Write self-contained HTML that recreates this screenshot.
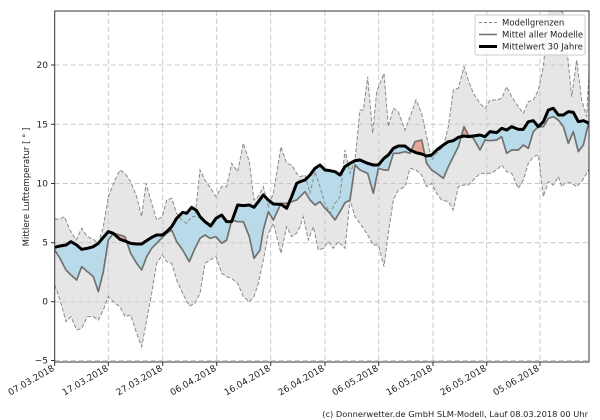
<!DOCTYPE html>
<html><head><meta charset="utf-8"><style>
html,body{margin:0;padding:0;background:#fff;}
svg{display:block;font-family:"DejaVu Sans","Liberation Sans",sans-serif;}
</style></head><body>
<svg width="600" height="420" viewBox="0 0 600 420" xmlns="http://www.w3.org/2000/svg">
<defs>
<clipPath id="plot"><rect x="54.7" y="11" width="534.3" height="351"/></clipPath>
<clipPath id="below"><polygon points="164,742 180,738 198,735 213,725 230,735 245,748 262,745 280,740 295,730 310,712 325,695 340,700 360,718 375,723 392,730 410,732 425,732 440,722 455,712 470,705 487,705 500,695 515,680 530,655 548,637 560,640 575,622 590,632 600,650 615,665 632,678 648,655 665,645 680,665 695,665 713,615 730,617 748,615 762,622 775,605 790,585 805,600 820,612 843,613 860,625 875,590 890,550 900,545 915,540 930,525 945,505 960,495 975,510 990,512 1005,515 1020,525 1035,500 1050,490 1065,482 1080,480 1103,490 1120,495 1135,495 1152,475 1165,465 1180,445 1195,438 1215,438 1230,450 1248,458 1265,462 1280,468 1295,465 1310,450 1330,435 1345,425 1360,422 1375,412 1392,408 1405,410 1420,408 1440,405 1455,410 1470,395 1490,398 1505,385 1520,390 1535,380 1555,388 1570,388 1585,365 1600,362 1615,380 1630,365 1645,330 1660,325 1675,345 1690,345 1705,335 1720,337 1735,365 1750,362 1768,370 1768,1100 164,1100"/></clipPath>
<clipPath id="above"><polygon points="164,742 180,738 198,735 213,725 230,735 245,748 262,745 280,740 295,730 310,712 325,695 340,700 360,718 375,723 392,730 410,732 425,732 440,722 455,712 470,705 487,705 500,695 515,680 530,655 548,637 560,640 575,622 590,632 600,650 615,665 632,678 648,655 665,645 680,665 695,665 713,615 730,617 748,615 762,622 775,605 790,585 805,600 820,612 843,613 860,625 875,590 890,550 900,545 915,540 930,525 945,505 960,495 975,510 990,512 1005,515 1020,525 1035,500 1050,490 1065,482 1080,480 1103,490 1120,495 1135,495 1152,475 1165,465 1180,445 1195,438 1215,438 1230,450 1248,458 1265,462 1280,468 1295,465 1310,450 1330,435 1345,425 1360,422 1375,412 1392,408 1405,410 1420,408 1440,405 1455,410 1470,395 1490,398 1505,385 1520,390 1535,380 1555,388 1570,388 1585,365 1600,362 1615,380 1630,365 1645,330 1660,325 1675,345 1690,345 1705,335 1720,337 1735,365 1750,362 1768,370 1768,0 164,0"/></clipPath>
</defs>
<g clip-path="url(#plot)">
<g transform="scale(0.3333333)">
<polygon fill="#e6e6e6" points="164,657 178,658 193,650 210,690 228,720 245,685 262,710 280,718 295,730 310,680 325,590 345,540 360,510 375,520 392,545 410,590 425,650 438,550 455,610 470,660 487,650 500,600 515,595 530,640 545,660 560,670 575,650 585,650 600,510 615,540 632,565 648,590 665,560 680,560 695,490 713,515 730,430 748,485 762,600 775,590 790,560 805,620 820,580 843,440 860,490 875,495 890,520 900,530 915,525 930,580 945,515 960,560 975,610 990,640 1005,610 1020,590 1035,450 1050,520 1065,480 1080,330 1090,330 1103,230 1118,400 1130,275 1152,220 1165,380 1180,325 1195,335 1215,390 1230,350 1248,300 1265,340 1280,410 1295,480 1310,460 1330,440 1345,380 1360,270 1375,265 1392,200 1405,240 1420,280 1440,310 1455,325 1470,300 1490,300 1505,295 1520,260 1535,290 1555,320 1570,340 1585,305 1600,300 1615,270 1630,200 1640,100 1650,20 1670,20 1690,40 1700,140 1715,290 1730,180 1745,300 1760,350 1768,200 1768,505 1760,520 1745,545 1730,560 1715,550 1700,545 1685,560 1675,530 1660,555 1645,545 1630,590 1615,465 1600,470 1585,490 1570,540 1555,565 1535,520 1520,515 1505,495 1490,510 1470,520 1455,520 1440,520 1420,540 1405,555 1392,555 1375,560 1360,630 1345,605 1325,600 1310,580 1295,550 1280,560 1265,525 1248,510 1230,505 1215,560 1195,570 1180,600 1165,700 1152,800 1135,735 1120,735 1100,700 1080,670 1065,650 1050,600 1035,745 1015,725 1000,745 985,725 970,745 955,750 940,680 925,720 910,650 900,680 890,700 875,710 860,680 843,760 820,670 805,700 790,780 775,850 762,890 748,905 730,890 713,850 695,835 680,830 665,820 648,770 630,780 615,790 600,880 585,910 568,918 548,880 530,840 515,790 500,785 487,765 470,790 455,880 440,960 425,1040 410,1000 392,945 375,950 360,920 345,910 325,890 310,930 295,960 280,950 262,950 245,985 230,990 213,950 198,965 180,900 164,855"/>
</g>
<g stroke="#c8c8c8" stroke-width="1" stroke-dasharray="5,3" fill="none">
<line x1="108.3" y1="11" x2="108.3" y2="362"/><line x1="162.7" y1="11" x2="162.7" y2="362"/><line x1="216.7" y1="11" x2="216.7" y2="362"/><line x1="270.7" y1="11" x2="270.7" y2="362"/><line x1="325" y1="11" x2="325" y2="362"/><line x1="378.7" y1="11" x2="378.7" y2="362"/><line x1="433" y1="11" x2="433" y2="362"/><line x1="486.7" y1="11" x2="486.7" y2="362"/><line x1="540" y1="11" x2="540" y2="362"/>
<line x1="54.7" y1="65" x2="589" y2="65"/><line x1="54.7" y1="124.3" x2="589" y2="124.3"/><line x1="54.7" y1="183.5" x2="589" y2="183.5"/><line x1="54.7" y1="242.7" x2="589" y2="242.7"/><line x1="54.7" y1="301.7" x2="589" y2="301.7"/><line x1="54.7" y1="360.5" x2="589" y2="360.5"/>
</g>
<g transform="scale(0.3333333)">
<polygon fill="#b9dbe9" clip-path="url(#below)" points="164,742 180,738 198,735 213,725 230,735 245,748 262,745 280,740 295,730 310,712 325,695 340,700 360,718 375,723 392,730 410,732 425,732 440,722 455,712 470,705 487,705 500,695 515,680 530,655 548,637 560,640 575,622 590,632 600,650 615,665 632,678 648,655 665,645 680,665 695,665 713,615 730,617 748,615 762,622 775,605 790,585 805,600 820,612 843,613 860,625 875,590 890,550 900,545 915,540 930,525 945,505 960,495 975,510 990,512 1005,515 1020,525 1035,500 1050,490 1065,482 1080,480 1103,490 1120,495 1135,495 1152,475 1165,465 1180,445 1195,438 1215,438 1230,450 1248,458 1265,462 1280,468 1295,465 1310,450 1330,435 1345,425 1360,422 1375,412 1392,408 1405,410 1420,408 1440,405 1455,410 1470,395 1490,398 1505,385 1520,390 1535,380 1555,388 1570,388 1585,365 1600,362 1615,380 1630,365 1645,330 1660,325 1675,345 1690,345 1705,335 1720,337 1735,365 1750,362 1768,370 1768,360 1750,435 1735,455 1720,395 1705,430 1690,380 1675,360 1660,350 1645,355 1630,380 1615,380 1600,395 1585,445 1570,435 1555,450 1535,450 1520,460 1505,410 1490,420 1470,422 1455,420 1440,450 1420,415 1405,405 1392,380 1375,440 1360,470 1345,500 1330,535 1310,520 1295,510 1280,490 1265,420 1245,425 1230,460 1215,455 1195,460 1180,460 1165,510 1152,510 1135,505 1120,580 1103,520 1080,510 1065,495 1050,600 1035,608 1020,635 1005,660 990,640 975,625 960,605 945,615 930,600 915,575 900,590 890,600 875,605 860,610 843,610 820,660 805,635 790,690 780,750 762,775 748,710 730,665 713,665 695,660 680,720 665,730 648,710 630,715 615,705 600,715 585,745 568,785 548,750 530,725 515,690 500,700 487,712 470,730 455,745 440,770 425,810 410,790 392,760 375,710 360,705 340,700 325,720 310,815 295,875 280,830 262,815 245,800 230,840 213,825 198,810 180,775 164,750"/>
<polygon fill="#e8a898" clip-path="url(#above)" points="164,742 180,738 198,735 213,725 230,735 245,748 262,745 280,740 295,730 310,712 325,695 340,700 360,718 375,723 392,730 410,732 425,732 440,722 455,712 470,705 487,705 500,695 515,680 530,655 548,637 560,640 575,622 590,632 600,650 615,665 632,678 648,655 665,645 680,665 695,665 713,615 730,617 748,615 762,622 775,605 790,585 805,600 820,612 843,613 860,625 875,590 890,550 900,545 915,540 930,525 945,505 960,495 975,510 990,512 1005,515 1020,525 1035,500 1050,490 1065,482 1080,480 1103,490 1120,495 1135,495 1152,475 1165,465 1180,445 1195,438 1215,438 1230,450 1248,458 1265,462 1280,468 1295,465 1310,450 1330,435 1345,425 1360,422 1375,412 1392,408 1405,410 1420,408 1440,405 1455,410 1470,395 1490,398 1505,385 1520,390 1535,380 1555,388 1570,388 1585,365 1600,362 1615,380 1630,365 1645,330 1660,325 1675,345 1690,345 1705,335 1720,337 1735,365 1750,362 1768,370 1768,360 1750,435 1735,455 1720,395 1705,430 1690,380 1675,360 1660,350 1645,355 1630,380 1615,380 1600,395 1585,445 1570,435 1555,450 1535,450 1520,460 1505,410 1490,420 1470,422 1455,420 1440,450 1420,415 1405,405 1392,380 1375,440 1360,470 1345,500 1330,535 1310,520 1295,510 1280,490 1265,420 1245,425 1230,460 1215,455 1195,460 1180,460 1165,510 1152,510 1135,505 1120,580 1103,520 1080,510 1065,495 1050,600 1035,608 1020,635 1005,660 990,640 975,625 960,605 945,615 930,600 915,575 900,590 890,600 875,605 860,610 843,610 820,660 805,635 790,690 780,750 762,775 748,710 730,665 713,665 695,660 680,720 665,730 648,710 630,715 615,705 600,715 585,745 568,785 548,750 530,725 515,690 500,700 487,712 470,730 455,745 440,770 425,810 410,790 392,760 375,710 360,705 340,700 325,720 310,815 295,875 280,830 262,815 245,800 230,840 213,825 198,810 180,775 164,750"/>
<g fill="none" stroke="#8a8a8a" stroke-width="3" stroke-dasharray="12,6">
<polyline points="164,657 178,658 193,650 210,690 228,720 245,685 262,710 280,718 295,730 310,680 325,590 345,540 360,510 375,520 392,545 410,590 425,650 438,550 455,610 470,660 487,650 500,600 515,595 530,640 545,660 560,670 575,650 585,650 600,510 615,540 632,565 648,590 665,560 680,560 695,490 713,515 730,430 748,485 762,600 775,590 790,560 805,620 820,580 843,440 860,490 875,495 890,520 900,530 915,525 930,580 945,515 960,560 975,610 990,640 1005,610 1020,590 1035,450 1050,520 1065,480 1080,330 1090,330 1103,230 1118,400 1130,275 1152,220 1165,380 1180,325 1195,335 1215,390 1230,350 1248,300 1265,340 1280,410 1295,480 1310,460 1330,440 1345,380 1360,270 1375,265 1392,200 1405,240 1420,280 1440,310 1455,325 1470,300 1490,300 1505,295 1520,260 1535,290 1555,320 1570,340 1585,305 1600,300 1615,270 1630,200 1640,100 1650,20 1670,20 1690,40 1700,140 1715,290 1730,180 1745,300 1760,350 1768,200"/>
<polyline points="164,855 180,900 198,965 213,950 230,990 245,985 262,950 280,950 295,960 310,930 325,890 345,910 360,920 375,950 392,945 410,1000 425,1040 440,960 455,880 470,790 487,765 500,785 515,790 530,840 548,880 568,918 585,910 600,880 615,790 630,780 648,770 665,820 680,830 695,835 713,850 730,890 748,905 762,890 775,850 790,780 805,700 820,670 843,760 860,680 875,710 890,700 900,680 910,650 925,720 940,680 955,750 970,745 985,725 1000,745 1015,725 1035,745 1050,600 1065,650 1080,670 1100,700 1120,735 1135,735 1152,800 1165,700 1180,600 1195,570 1215,560 1230,505 1248,510 1265,525 1280,560 1295,550 1310,580 1325,600 1345,605 1360,630 1375,560 1392,555 1405,555 1420,540 1440,520 1455,520 1470,520 1490,510 1505,495 1520,515 1535,520 1555,565 1570,540 1585,490 1600,470 1615,465 1630,590 1645,545 1660,555 1675,530 1685,560 1700,545 1715,550 1730,560 1745,545 1760,520 1768,505"/>
</g>
<polyline fill="none" stroke="#707070" stroke-width="5" stroke-linejoin="round" points="164,750 180,775 198,810 213,825 230,840 245,800 262,815 280,830 295,875 310,815 325,720 340,700 360,705 375,710 392,760 410,790 425,810 440,770 455,745 470,730 487,712 500,700 515,690 530,725 548,750 568,785 585,745 600,715 615,705 630,715 648,710 665,730 680,720 695,660 713,665 730,665 748,710 762,775 780,750 790,690 805,635 820,660 843,610 860,610 875,605 890,600 900,590 915,575 930,600 945,615 960,605 975,625 990,640 1005,660 1020,635 1035,608 1050,600 1065,495 1080,510 1103,520 1120,580 1135,505 1152,510 1165,510 1180,460 1195,460 1215,455 1230,460 1245,425 1265,420 1280,490 1295,510 1310,520 1330,535 1345,500 1360,470 1375,440 1392,380 1405,405 1420,415 1440,450 1455,420 1470,422 1490,420 1505,410 1520,460 1535,450 1555,450 1570,435 1585,445 1600,395 1615,380 1630,380 1645,355 1660,350 1675,360 1690,380 1705,430 1720,395 1735,455 1750,435 1768,360"/>
<polyline fill="none" stroke="#000" stroke-width="9" stroke-linejoin="round" points="164,742 180,738 198,735 213,725 230,735 245,748 262,745 280,740 295,730 310,712 325,695 340,700 360,718 375,723 392,730 410,732 425,732 440,722 455,712 470,705 487,705 500,695 515,680 530,655 548,637 560,640 575,622 590,632 600,650 615,665 632,678 648,655 665,645 680,665 695,665 713,615 730,617 748,615 762,622 775,605 790,585 805,600 820,612 843,613 860,625 875,590 890,550 900,545 915,540 930,525 945,505 960,495 975,510 990,512 1005,515 1020,525 1035,500 1050,490 1065,482 1080,480 1103,490 1120,495 1135,495 1152,475 1165,465 1180,445 1195,438 1215,438 1230,450 1248,458 1265,462 1280,468 1295,465 1310,450 1330,435 1345,425 1360,422 1375,412 1392,408 1405,410 1420,408 1440,405 1455,410 1470,395 1490,398 1505,385 1520,390 1535,380 1555,388 1570,388 1585,365 1600,362 1615,380 1630,365 1645,330 1660,325 1675,345 1690,345 1705,335 1720,337 1735,365 1750,362 1768,370"/>
</g>
</g>
<rect x="54.7" y="11" width="534.3" height="351" fill="none" stroke="#333" stroke-width="1"/>
<g stroke="#333" stroke-width="1">
<line x1="51" y1="65" x2="54.7" y2="65"/><line x1="51" y1="124.3" x2="54.7" y2="124.3"/><line x1="51" y1="183.5" x2="54.7" y2="183.5"/><line x1="51" y1="242.7" x2="54.7" y2="242.7"/><line x1="51" y1="301.7" x2="54.7" y2="301.7"/><line x1="51" y1="360.5" x2="54.7" y2="360.5"/>
<line x1="54.7" y1="362" x2="54.7" y2="366"/><line x1="108.3" y1="362" x2="108.3" y2="366"/><line x1="162.7" y1="362" x2="162.7" y2="366"/><line x1="216.7" y1="362" x2="216.7" y2="366"/><line x1="270.7" y1="362" x2="270.7" y2="366"/><line x1="325" y1="362" x2="325" y2="366"/><line x1="378.7" y1="362" x2="378.7" y2="366"/><line x1="433" y1="362" x2="433" y2="366"/><line x1="486.7" y1="362" x2="486.7" y2="366"/><line x1="540" y1="362" x2="540" y2="366"/>
</g>
<g font-size="9" fill="#222" text-anchor="end">
<text x="48" y="68">20</text><text x="48" y="127.5">15</text><text x="48" y="186.5">10</text><text x="48" y="245.7">5</text><text x="48" y="304.7">0</text><text x="48" y="363.5">−5</text>
</g>
<g font-size="9" fill="#222" text-anchor="end">
<text transform="translate(55,370) rotate(-30)">07.03.2018</text>
<text transform="translate(109,370) rotate(-30)">17.03.2018</text>
<text transform="translate(163,370) rotate(-30)">27.03.2018</text>
<text transform="translate(217,370) rotate(-30)">06.04.2018</text>
<text transform="translate(271,370) rotate(-30)">16.04.2018</text>
<text transform="translate(325,370) rotate(-30)">26.04.2018</text>
<text transform="translate(379,370) rotate(-30)">06.05.2018</text>
<text transform="translate(433,370) rotate(-30)">16.05.2018</text>
<text transform="translate(487,370) rotate(-30)">26.05.2018</text>
<text transform="translate(540,370) rotate(-30)">05.06.2018</text>
</g>
<text transform="translate(29,187) rotate(-90)" font-size="8.5" fill="#222" text-anchor="middle">Mittlere Lufttemperatur [ ° ]</text>
<rect x="475" y="15" width="110" height="40" rx="2" fill="#fff" fill-opacity="0.85" stroke="#ccc" stroke-width="1"/>
<line x1="479" y1="22.5" x2="497" y2="22.5" stroke="#888" stroke-width="1" stroke-dasharray="3,2"/>
<line x1="479" y1="34.5" x2="497" y2="34.5" stroke="#707070" stroke-width="1.6"/>
<line x1="479" y1="46.5" x2="497" y2="46.5" stroke="#000" stroke-width="3"/>
<g font-size="8.5" fill="#222">
<text x="502" y="25.5">Modellgrenzen</text>
<text x="502" y="37.5">Mittel aller Modelle</text>
<text x="502" y="49.5">Mittelwert 30 Jahre</text>
</g>
<text x="588" y="417" font-size="8.3" fill="#222" text-anchor="end">(c) Donnerwetter.de GmbH SLM-Modell, Lauf 08.03.2018 00 Uhr</text>
</svg>
</body></html>
